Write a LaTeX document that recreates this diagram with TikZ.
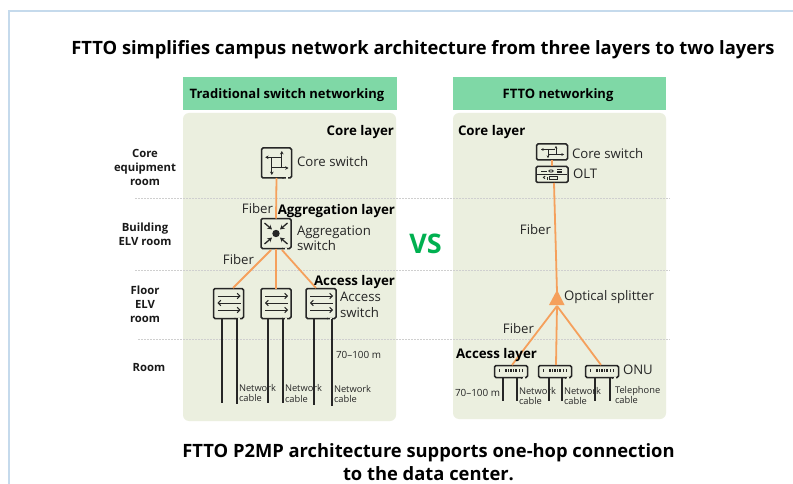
\documentclass[tikz,border=0pt]{standalone}
\usepackage{fontspec}
\setmainfont{Open Sans}
\usetikzlibrary{arrows.meta}
\definecolor{framec}{HTML}{C5DAEC}
\definecolor{headc}{HTML}{7FD8A6}
\definecolor{panelc}{HTML}{EBEFDF}
\definecolor{fibc}{HTML}{F5A05C}
\definecolor{vsc}{HTML}{00B050}
\definecolor{txt}{HTML}{262626}
\definecolor{dotc}{HTML}{CFCFCF}
\colorlet{ink}{black!85}
\tikzset{
  x=1pt,y=-1pt,
  every node/.style={inner sep=0pt,outer sep=0pt,text=txt},
  titletext/.style={font=\fontsize{18.35}{23}\selectfont\bfseries,text=black,align=center},
  headtext/.style={font=\fontsize{13}{16}\selectfont\bfseries,text=black,yshift=-1.5pt},
  layer/.style={font=\fontsize{13.3}{15}\selectfont\bfseries,text=black,yshift=-2pt},
  lab/.style={font=\fontsize{13.2}{15.5}\selectfont,align=left,yshift=-1pt},
  room/.style={font=\fontsize{11.3}{14}\selectfont\bfseries,align=center,text=black!90},
  small/.style={font=\fontsize{9.3}{10.5}\selectfont,align=left},
  dist/.style={font=\fontsize{9.9}{12}\selectfont},
  fiber/.style={draw=fibc,line width=1.8pt},
  cable/.style={draw=ink,line width=1.5pt},
  sep/.style={draw=dotc,line width=.6pt,dash pattern=on 1.5pt off 1.5pt},
  dev/.style={draw=ink,line width=1.5pt,rounded corners=1.5pt,fill=panelc},
  ic/.style={draw=ink,line width=1pt,-{Stealth[length=3.4pt,width=3.6pt]}},
  icb/.style={draw=ink,line width=1pt,-{Straight Barb[length=2.6pt,width=5.5pt]}},
  ica/.style={draw=ink,line width=1.3pt,-{Stealth[length=4.5pt,width=5pt]}},
  ics/.style={draw=ink,line width=.8pt,-{Stealth[length=2.6pt,width=2.8pt]}},
  ln/.style={draw=ink,line width=.8pt},
}
\newcommand{\swbox}[2]{% center, name
  \node[dev,minimum width=30pt,minimum height=30pt] (#2) at (#1) {};
  \begin{scope}[shift={(#1)}]
    \fill[panelc] (9,14) rectangle (11,17);
    \fill[ink] (6.5,15) circle (.9);
  \end{scope}
}
\newcommand{\accessicon}[1]{%
  \begin{scope}[shift={(#1)}]
    \draw[icb] (-11,-7.5) -- (12,-7.5);
    \draw[icb] (12,-.5) -- (-11,-.5);
    \draw[icb] (-11,6.5) -- (12,6.5);
  \end{scope}
}
\newcommand{\onu}[2]{%
  \node[dev,minimum width=33pt,minimum height=12pt] (#2) at (#1) {};
  \begin{scope}[shift={(#1)}]
    \foreach \q in {-12.5,-6,-3.5,-1,1.5,4,7.5,10.5}{
      \fill[ink] (\q,-3) rectangle +(1.9,3.6);
    }
    \fill[panelc] (12,5) rectangle (14,8);
    \fill[ink] (10.5,6.5) circle (.9);
  \end{scope}
}
\begin{document}
\begin{tikzpicture}
\useasboundingbox (0,0) rectangle (793,484);
\fill[white] (0,0) rectangle (793,484);
\draw[framec,line width=1.3pt] (793,11) -- (9,11) -- (9,484);
% panels
\node[fill=headc,minimum width=214pt,minimum height=33pt] (lhead) at (290,93.5) {};
\node[fill=headc,minimum width=213pt,minimum height=33pt] (rhead) at (559.5,93.5) {};
\fill[panelc,rounded corners=6pt] (183,113) rectangle (396,421);
\fill[panelc,rounded corners=6pt] (453,113) rectangle (666,419);
\node[headtext] at (287,93.5) {Traditional switch networking};
\node[headtext] at (558,93.5) {FTTO networking};
% separators
\coordinate (s1a) at (135,198); \coordinate (s1b) at (670,198);
\coordinate (s2a) at (135,270); \coordinate (s2b) at (670,270);
\coordinate (s3a) at (138,339); \coordinate (s3b) at (670,339);
\draw[sep] (s1a) -- (s1b);
\draw[sep] (s2a) -- (s2b);
\draw[sep] (s3a) -- (s3b);
% title
\node[titletext] (title) at (423,50) {FTTO simplifies campus network architecture from three layers to two layers};
\node[titletext] (bottom) at (428.5,462) {FTTO P2MP architecture supports one-hop connection\\to the data center.};
\node[font=\fontsize{27}{30}\selectfont\bfseries,text=vsc] (vs) at (425.5,244) {VS};
% rooms
\node[room] (r1) at (145,167) {Core\\equipment\\room};
\node[room] (r2) at (145,234) {Building\\ELV room};
\node[room] (r3) at (145,304) {Floor\\ELV\\room};
\node[room] (r4) at (149,368) {Room};
% left devices
\swbox{276.5,163}{core}
\swbox{276,233.5}{agg}
\swbox{228.5,303.5}{acca}
\swbox{276,303.5}{accb}
\swbox{321,303.5}{accc}
\begin{scope}[shift={(core)}]
  \draw[ic] (5,-5.7) -- (-11.3,-5.7);
  \draw[ic] (5.3,5) -- (5.3,-12);
  \draw[ic] (-4.7,-5.7) -- (-4.7,12);
  \draw[ic] (-4.7,5) -- (12,5);
\end{scope}
\begin{scope}[shift={(agg)}]
  \fill[ink] (0,0) circle (3.7);
  \draw[ica] (-11.5,-10.5) -- (-4,-4);
  \draw[ica] (11.5,-10.5) -- (4,-4);
  \draw[ica] (-11.5,10.5) -- (-4,4);
  \draw[ica] (11.5,10.5) -- (4,4);
\end{scope}
\accessicon{acca}
\accessicon{accb}
\accessicon{accc}
\coordinate (aggl) at (271,250);
\coordinate (aggr) at (282,250);
\coordinate (accat) at (233,288);
\coordinate (accct) at (316,288);
\draw[fiber] (core.south) -- (agg.north);
\draw[fiber] (aggl) -- (accat);
\draw[fiber] (agg.south) -- (accb.north);
\draw[fiber] (aggr) -- (accct);
% left cables
\coordinate (ca1) at (222,403); \coordinate (ca2) at (237,404);
\coordinate (cb1) at (268,403); \coordinate (cb2) at (283,403);
\coordinate (cc1) at (314,405); \coordinate (cc2) at (332,406);
\draw[cable] (ca1 |- acca.south) -- (ca1);
\draw[cable] (ca2 |- acca.south) -- (ca2);
\draw[cable] (cb1 |- accb.south) -- (cb1);
\draw[cable] (cb2 |- accb.south) -- (cb2);
\draw[cable] (cc1 |- accc.south) -- (cc1);
\draw[cable] (cc2 |- accc.south) -- (cc2);
% left labels
\node[layer,anchor=east] at (394,130) {Core layer};
\node[lab,anchor=west] at (297,161) {Core switch};
\node[lab,anchor=east] at (273,208) {Fiber};
\node[layer,anchor=east] at (395,209) {Aggregation layer};
\node[lab,anchor=west] at (297,237) {Aggregation\\switch};
\node[lab,anchor=east] at (254,259) {Fiber};
\node[layer,anchor=east] at (395,280) {Access layer};
\node[lab,anchor=west] at (340,304) {Access\\switch};
\node[dist,anchor=west] at (336,355) {70–100 m};
\node[small,anchor=west] at (239,393) {Network\\cable};
\node[small,anchor=west] at (285,393.5) {Network\\cable};
\node[small,anchor=west] at (334,394) {Network\\cable};
% right devices
\node[dev,minimum width=31pt,minimum height=16pt] (rcore) at (552,152) {};
\node[dev,minimum width=32pt,minimum height=16pt] (olt) at (552,174.5) {};
\begin{scope}[shift={(rcore)}]
  \draw[ics] (3,-2.5) -- (-11,-2.5);
  \draw[ics] (4,2.5) -- (4,-6);
  \draw[ics] (-4,-2.5) -- (-4,6);
  \draw[ics] (-4,2.5) -- (12,2.5);
\end{scope}
\begin{scope}[shift={(olt)}]
  \draw[ln] (-15,0) -- (15,0);
  \draw[ln] (-11,-3.5) -- (-5,-3.5);
  \draw[ln] (-1,-3.5) ellipse (2.2 and 1.1);
  \draw[ln] (5,-5) -- (10,-5) (5,-3.5) -- (10,-3.5) (5,-2) -- (10,-2);
  \draw[line width=1pt,draw=ink] (-7,4.2) arc (90:270:1.5 and 1.3);
  \draw[ln] (-3,2) rectangle (5,5);
  \fill[ink] (-5.5,2.5) rectangle (-4,5.5);
\end{scope}
\draw[fiber] (rcore.south) -- (olt.north);
\coordinate (splapex) at (557,292);
\coordinate (splc) at (557,306);
\coordinate (oltb) at (554,183);
\draw[fiber] (oltb) -- (splapex);
\fill[fibc] (557,290) -- (564.5,305) -- (549,305) -- cycle;
\onu{511,371.5}{o1}
\onu{555,371.5}{o2}
\onu{602,371.5}{o3}
\coordinate (o1t) at (512,365); \coordinate (o2t) at (556,365); \coordinate (o3t) at (601,365);
\draw[fiber] (splc) -- (o1t);
\draw[fiber] (splc) -- (o2t);
\draw[fiber] (splc) -- (o3t);
% right cables
\foreach \cx/\dv in {503/o1,517/o1,549/o2,562/o2,595/o3,610/o3}{
  \coordinate (cend) at (\cx,401);
  \draw[cable] (cend |- \dv.south) -- (cend);
}
% right labels
\node[layer,anchor=west] at (458,130) {Core layer};
\node[lab,anchor=west] at (572,153) {Core switch};
\node[lab,anchor=west] at (573,173) {OLT};
\node[lab,anchor=east] at (551,229) {Fiber};
\node[lab,anchor=west] at (564,296) {Optical splitter};
\node[lab,anchor=east] at (534,328) {Fiber};
\node[layer,anchor=west] at (456,353) {Access layer};
\node[lab,anchor=west] at (623,369) {ONU};
\node[dist,anchor=west] at (455,393) {70–100 m};
\node[small,anchor=west] at (519,396) {Network\\cable};
\node[small,anchor=west] at (564,396) {Network\\cable};
\node[small,anchor=west] at (615,395) {Telephone\\cable};
\end{tikzpicture}
\end{document}
